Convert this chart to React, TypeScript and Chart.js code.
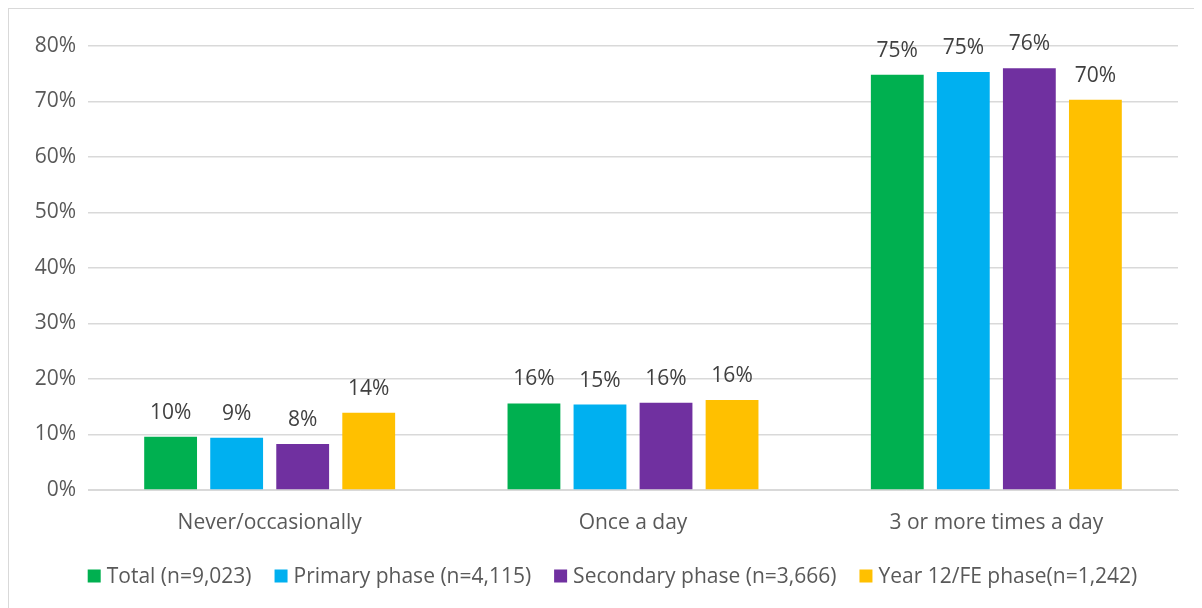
import React, { useEffect, useRef } from "react";
import { Chart, registerables } from "chart.js";

Chart.register(...registerables);

const categories = ["Never/occasionally", "Once a day", "3 or more times a day"];
const seriesNames = [
  "Total (n=9,023)",
  "Primary phase (n=4,115)",
  "Secondary phase (n=3,666)",
  "Year 12/FE phase(n=1,242)",
];
const totalValues = [9.6, 15.6, 74.8];
const primaryValues = [9.4, 15.4, 75.3];
const secondaryValues = [8.3, 15.7, 76.0];
const year12Values = [13.9, 16.2, 70.3];
const seriesColors = ["#00B050", "#00B0F0", "#7030A0", "#FFC000"];
const yTicks = [0, 10, 20, 30, 40, 50, 60, 70, 80];

const FONT = "'Open Sans', 'Liberation Sans', sans-serif";
const FS = 21;

const dataLabelPlugin = {
  id: "dataLabels",
  afterDatasetsDraw(chart: any) {
    const ctx = chart.ctx;
    ctx.save();
    ctx.font = `${FS}px ${FONT}`;
    ctx.fillStyle = "#404040";
    ctx.textAlign = "center";
    ctx.textBaseline = "middle";
    chart.data.datasets.forEach((ds: any, i: number) => {
      const meta = chart.getDatasetMeta(i);
      meta.data.forEach((bar: any, j: number) => {
        const v = ds.data[j];
        ctx.fillText(`${Math.round(v)}%`, bar.x, bar.y - 24);
      });
    });
    ctx.restore();
  },
};

const legendPlugin = {
  id: "customLegend",
  afterDraw(chart: any) {
    const ctx = chart.ctx;
    ctx.save();
    ctx.font = `${FS}px ${FONT}`;
    ctx.textBaseline = "middle";
    ctx.textAlign = "left";
    const box = 13;
    const boxGap = 6;
    const itemGap = 23;
    const items = chart.data.datasets.map((ds: any) => ({
      label: ds.label,
      color: ds.backgroundColor,
      w: box + boxGap + ctx.measureText(ds.label).width,
    }));
    const total =
      items.reduce((s: number, it: any) => s + it.w, 0) + itemGap * (items.length - 1);
    let x = 80 + (1047 - total) / 2;
    const y = 567;
    items.forEach((it: any) => {
      ctx.fillStyle = it.color;
      ctx.fillRect(x, y - box / 2, box, box);
      ctx.fillStyle = "#595959";
      ctx.fillText(it.label, x + box + boxGap, y + 1);
      x += it.w + itemGap;
    });
    ctx.restore();
  },
};

export default function App() {
  const ref = useRef<HTMLCanvasElement>(null);
  useEffect(() => {
    if (!ref.current) return;
    const seriesData = [totalValues, primaryValues, secondaryValues, year12Values];
    const chart = new Chart(ref.current, {
      type: "bar",
      data: {
        labels: categories,
        datasets: seriesNames.map((name, i) => ({
          label: name,
          data: seriesData[i],
          backgroundColor: seriesColors[i],
          borderWidth: 0,
          categoryPercentage: 0.727,
          barPercentage: 0.8,
        })),
      },
      options: {
        animation: false,
        responsive: false,
        maintainAspectRatio: false,
        layout: { padding: { top: 37, right: 24, left: 0, bottom: 64 } },
        plugins: {
          legend: { display: false },
          tooltip: { enabled: false },
        },
        scales: {
          x: {
            grid: { display: false },
            border: { display: true, color: "#D9D9D9" },
            ticks: {
              font: { family: FONT, size: FS },
              color: "#595959",
              padding: 12,
            },
            afterFit(scale: any) {
              scale.height = 55;
            },
          },
          y: {
            min: 0,
            max: 80,
            afterBuildTicks(scale: any) {
              scale.ticks = yTicks.map((v) => ({ value: v }));
            },
            grid: { color: "#D9D9D9", lineWidth: 1.5, drawTicks: false },
            border: { display: false },
            ticks: {
              font: { family: FONT, size: FS },
              color: "#595959",
              padding: 12,
              callback: (v: any) => `${v}%`,
            },
            afterFit(scale: any) {
              scale.width = 79;
            },
          },
        },
      },
      plugins: [dataLabelPlugin, legendPlugin],
    });
    return () => chart.destroy();
  }, []);
  return (
    <div
      style={{
        width: 1193,
        height: 600,
        borderLeft: "1px solid #D9D9D9",
        borderTop: "1px solid #D9D9D9",
        background: "#fff",
      }}
    >
      <canvas ref={ref} width={1193} height={600} style={{ display: "block" }} />
    </div>
  );
}
